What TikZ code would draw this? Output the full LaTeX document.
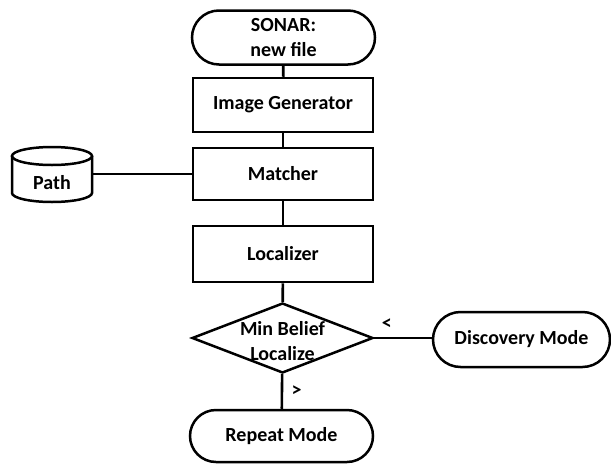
\documentclass[tikz,border=0pt]{standalone}
\usepackage{fontspec}
\setmainfont{Carlito}
\usetikzlibrary{shapes.geometric,shapes.misc}
\begin{document}
\begin{tikzpicture}[x=1pt,y=-1pt,
  every node/.style={font=\fontsize{20}{25}\selectfont\bfseries, align=center, line width=2.5pt},
  proc/.style={draw, rectangle, minimum width=180, minimum height=54, inner sep=0},
  term/.style={draw, rounded rectangle, minimum width=183, minimum height=54, inner sep=0},
  conn/.style={line width=2.6pt},
  cyl/.style={line width=2.5pt}]
\useasboundingbox (0,0) rectangle (611,464);
\node[term] (sonar) at (283.5,37.5) {SONAR:\\new file};
\node[proc] (img) at (283,105) {Image Generator};
\node[proc, minimum height=52] (match) at (283,174) {Matcher};
\node[proc, minimum height=56] (loc) at (283,254) {Localizer};
\node[draw, diamond, aspect=2.6, minimum width=181, minimum height=70, inner sep=0] (dec) at (282.5,338) {};
\node (dectext) at (282.5,341) {Min Belief\\Localize};
\node[term, minimum width=177, minimum height=55] (disc) at (521.5,339.5) {Discovery Mode};
\node[term, minimum height=52] (rep) at (281.5,436) {Repeat Mode};
\node[minimum width=80, minimum height=55, inner sep=0] (path) at (52,175) {};
\draw[cyl] (12,156) -- (12,193) arc[start angle=180, end angle=0, x radius=40, y radius=9] -- (92,156);
\draw[cyl] (52,156) ellipse [x radius=40, y radius=9];
\node (pathtext) at (52,183) {Path};
\draw[conn] (sonar) -- (img);
\draw[conn] (img) -- (match);
\draw[conn] (match) -- (loc);
\draw[conn] (loc) -- (dec);
\draw[conn] (dec) -- (rep) node[pos=0.5, right=5pt] {>};
\draw[conn] (dec.east) -- (disc.west |- dec.east) node[pos=0.22, above=4pt] {<};
\draw[conn] (path.east |- match.west) -- (match.west);
\end{tikzpicture}
\end{document}
